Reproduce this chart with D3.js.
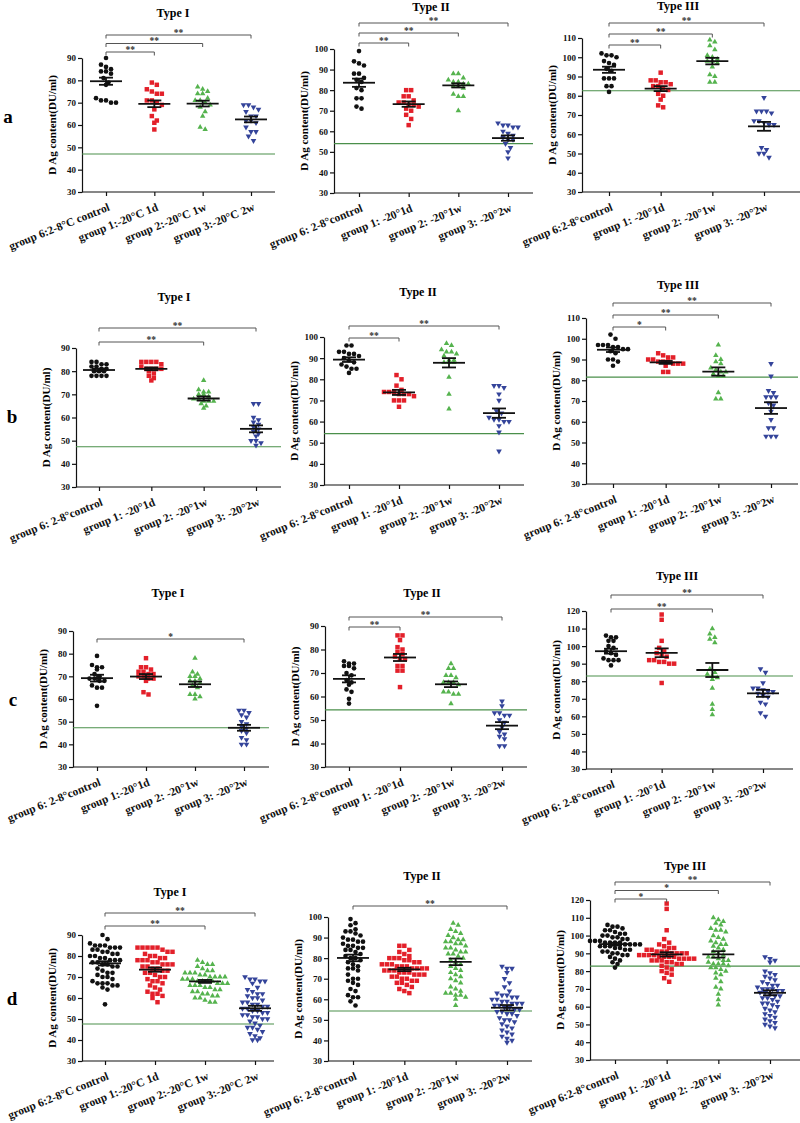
<!DOCTYPE html>
<html>
<head>
<meta charset="utf-8">
<script src="https://cdn.jsdelivr.net/npm/d3@7"></script>
<style>
  body { margin: 0; background: #fff; }
  svg { display: block; font-family: "Liberation Serif", "Times New Roman", serif; font-weight: bold; }
</style>
</head>
<body>
<div class="mainBody"></div>
<script>
// ---- data ----
var rowLetters = ["a", "b", "c", "d"];
var typeTitles = ["Type I", "Type II", "Type III"];

var labelsC = ["group 6:2-8°C control", "group 1:-20°C 1d", "group 2:-20°C 1w", "group 3:-20°C 2w"];
var labelsSpace = ["group 6: 2-8°control", "group 1: -20°1d", "group 2: -20°1w", "group 3: -20°2w"];
var labelsTight = ["group 6:2-8°control", "group 1: -20°1d", "group 2: -20°1w", "group 3: -20°2w"];
var labelsC1 = ["group 6: 2-8°control", "group 1:-20°1d", "group 2: -20°1w", "group 3: -20°2w"];

// reference (green) line per panel, rows a-d x types I-III
var refLevels = [
    [47, 54, 82.6],
    [47.4, 54.3, 81.5],
    [47.3, 54.3, 83],
    [47.6, 54.3, 82.8]
];

var a1Values = [
    [90, 87, 86, 85, 84, 84, 83, 81, 79, 78, 72, 71, 71, 70, 70],
    [79, 78, 76, 75, 74, 74, 71, 71, 70, 69, 67, 64, 62, 61, 58],
    [77, 76, 75, 74, 74, 72, 71, 71, 70, 69, 68, 66, 64, 59, 58],
    [69, 69, 68, 67, 66, 64, 64, 62, 62, 61, 59, 57, 57, 55, 53]
];
var a1Means = [79.6, 69.5, 69.6, 62.5];
var a1Sems = [1.6, 1.5, 1.3, 1.3];
var a1Sig = [[1, "**"], [2, "**"], [3, "**"]];

var a2Values = [
    [99, 94, 93, 92, 88, 88, 86, 85, 84, 81, 80, 76, 76, 72, 71],
    [80, 80, 77, 77, 75, 74, 74, 73, 73, 72, 71, 70, 68, 66, 63],
    [88, 88, 86, 85, 84, 84, 83, 83, 82, 82, 81, 78, 77, 77, 70],
    [64, 63, 63, 62, 62, 60, 59, 58, 57, 56, 56, 54, 52, 50, 47]
];
var a2Means = [83.6, 73.2, 82.3, 56.7];
var a2Sems = [2.0, 1.3, 1.0, 1.3];
var a2Sig = [[1, "**"], [2, "**"], [3, "**"]];

var a3Values = [
    [102, 101, 101, 100, 98, 97, 96, 94, 93, 89, 89, 89, 85, 85, 82],
    [92, 88, 88, 87, 87, 86, 85, 85, 84, 83, 81, 80, 78, 75, 74],
    [109, 108, 106, 104, 101, 100, 99, 98, 98, 97, 95, 91, 90, 87, 87],
    [79, 72, 72, 72, 71, 67, 67, 66, 65, 65, 53, 52, 50, 50, 48]
];
var a3Means = [93.5, 83.7, 98, 64.1];
var a3Sems = [1.6, 1.3, 1.7, 2.3];
var a3Sig = [[1, "**"], [2, "**"], [3, "**"]];

var b1Values = [
    [84, 84, 83, 83, 82, 82, 81, 81, 80, 80, 80, 78, 78, 78, 78],
    [84, 84, 84, 84, 83, 82, 81, 81, 81, 81, 80, 79, 78, 77, 76],
    [76, 72, 71, 71, 70, 70, 69, 68, 68, 67, 67, 67, 66, 65, 64],
    [66, 66, 60, 59, 58, 57, 56, 55, 54, 53, 52, 50, 50, 49, 48]
];
var b1Means = [80.5, 81, 68.2, 55.1];
var b1Sems = [0.6, 0.6, 0.9, 1.5];
var b1Sig = [[2, "**"], [3, "**"]];

var b2Values = [
    [96, 96, 93, 93, 92, 92, 91, 90, 89, 88, 87, 86, 85, 85, 83],
    [82, 80, 77, 75, 74, 74, 74, 73, 73, 73, 72, 70, 70, 70, 67],
    [97, 96, 94, 93, 93, 92, 91, 89, 89, 88, 88, 88, 81, 73, 66],
    [77, 77, 76, 73, 70, 65, 64, 62, 61, 61, 60, 60, 58, 55, 46]
];
var b2Means = [89.3, 73.8, 87.8, 64];
var b2Sems = [1.1, 1.2, 2.2, 2.2];
var b2Sig = [[1, "**"], [3, "**"]];

var b3Values = [
    [102, 100, 97, 97, 97, 96, 96, 95, 95, 94, 93, 90, 90, 89, 87],
    [93, 92, 91, 91, 90, 90, 89, 89, 89, 88, 88, 88, 87, 84, 84],
    [97, 92, 90, 89, 88, 86, 85, 84, 84, 83, 82, 82, 74, 71, 71],
    [88, 82, 75, 74, 72, 72, 72, 69, 68, 65, 61, 57, 57, 53, 53, 53]
];
var b3Means = [94.7, 88.6, 84.2, 66.6];
var b3Sems = [1.1, 0.7, 2.0, 2.8];
var b3Sig = [[1, "*"], [2, "**"], [3, "**"]];

var c1Values = [
    [79, 75, 74, 74, 73, 71, 70, 69, 69, 68, 68, 66, 65, 65, 57],
    [78, 74, 74, 73, 72, 72, 71, 71, 70, 70, 69, 69, 68, 63, 62],
    [78, 72, 71, 70, 70, 69, 68, 68, 67, 66, 65, 62, 62, 61, 60],
    [55, 55, 54, 53, 52, 50, 49, 48, 47, 46, 45, 43, 42, 40, 40]
];
var c1Means = [69.2, 69.9, 66.5, 47.3];
var c1Sems = [1.5, 1.1, 1.2, 1.3];
var c1Sig = [[3, "*"]];

var c2Values = [
    [75, 74, 74, 73, 73, 72, 70, 69, 67, 66, 65, 63, 62, 59, 57],
    [86, 86, 84, 81, 80, 79, 78, 77, 76, 76, 73, 73, 71, 71, 64],
    [74, 72, 72, 69, 69, 68, 66, 66, 66, 65, 61, 62, 62, 61, 57],
    [58, 56, 53, 53, 52, 52, 50, 49, 47, 45, 44, 43, 42, 39, 39]
];
var c2Means = [67.5, 76.6, 65.2, 47.6];
var c2Sems = [1.5, 1.5, 1.2, 1.5];
var c2Sig = [[1, "**"], [3, "**"]];

var c3Values = [
    [106, 105, 105, 103, 103, 100, 99, 97, 96, 95, 93, 92, 92, 92, 89],
    [118, 115, 103, 99, 97, 96, 95, 94, 92, 92, 91, 91, 90, 90, 79],
    [110, 107, 105, 104, 102, 87, 85, 84, 83, 82, 81, 76, 67, 64, 61],
    [87, 85, 79, 76, 76, 75, 74, 74, 73, 72, 71, 68, 67, 62, 60]
];
var c3Means = [97.1, 96.2, 86.4, 73.1];
var c3Sems = [1.4, 2.5, 4.0, 2.0];
var c3Sig = [[2, "**"], [3, "**"]];

var d1Values = [
    [90, 88, 86, 85, 85, 84, 84, 84, 83, 83, 82, 82, 81, 81, 80, 80, 79, 79, 78, 78, 78, 77, 77, 76, 76, 75, 75, 74, 73, 72, 72, 71, 70, 70, 69, 68, 67, 67, 67, 66, 66, 65, 64, 57, 85],
    [84, 84, 84, 84, 84, 83, 82, 82, 81, 80, 80, 79, 79, 78, 78, 77, 77, 76, 76, 75, 75, 74, 74, 73, 73, 72, 72, 71, 70, 70, 69, 68, 68, 67, 66, 65, 64, 63, 62, 62, 61, 60, 58, 78, 76],
    [78, 77, 76, 76, 75, 74, 73, 73, 72, 72, 71, 71, 70, 70, 70, 69, 69, 69, 68, 68, 68, 68, 67, 67, 67, 66, 66, 66, 65, 65, 64, 64, 63, 63, 62, 62, 61, 61, 60, 60, 59, 58, 58, 70, 72],
    [70, 69, 69, 68, 68, 67, 65, 64, 63, 62, 61, 60, 60, 59, 58, 58, 57, 56, 56, 55, 55, 54, 54, 53, 53, 52, 52, 51, 50, 50, 49, 48, 47, 46, 46, 45, 44, 43, 42, 41, 40, 40, 62, 57, 51]
];
var d1Means = [76.5, 73.5, 67.9, 55.1];
var d1Sems = [1.0, 1.0, 0.7, 1.2];
var d1Sig = [[2, "**"], [3, "**"]];

var d2Values = [
    [99, 97, 96, 94, 93, 93, 92, 91, 90, 89, 89, 88, 88, 87, 86, 86, 85, 84, 84, 83, 82, 81, 80, 79, 78, 77, 76, 75, 75, 74, 72, 70, 70, 69, 68, 67, 65, 64, 62, 61, 61, 59, 57, 80, 85],
    [86, 86, 84, 83, 82, 81, 80, 80, 79, 79, 78, 78, 77, 77, 76, 76, 76, 75, 75, 75, 74, 74, 74, 73, 73, 73, 72, 72, 71, 71, 70, 70, 69, 69, 68, 68, 67, 66, 65, 64, 63, 80, 77, 72, 75],
    [97, 96, 94, 93, 92, 91, 90, 89, 89, 88, 88, 87, 86, 85, 85, 84, 83, 82, 82, 81, 80, 79, 78, 77, 76, 75, 74, 73, 72, 70, 69, 68, 66, 65, 64, 63, 63, 62, 62, 61, 60, 57, 83, 87, 71],
    [76, 75, 75, 73, 70, 68, 66, 64, 63, 62, 61, 61, 60, 60, 59, 59, 58, 58, 57, 57, 56, 56, 55, 55, 54, 54, 53, 52, 51, 50, 50, 49, 48, 47, 46, 45, 44, 43, 42, 41, 40, 39, 58, 53, 62]
];
var d2Means = [80.1, 74.5, 78.2, 55.9];
var d2Sems = [1.6, 0.8, 1.6, 1.3];
var d2Sig = [[3, "**"]];

var d3Values = [
    [106, 105, 105, 104, 103, 103, 102, 101, 101, 100, 100, 99, 99, 98, 98, 97, 97, 97, 96, 96, 96, 95, 95, 95, 94, 94, 94, 93, 93, 92, 92, 91, 91, 90, 90, 89, 89, 88, 87, 86, 85, 84, 82, 96, 95],
    [118, 115, 103, 98, 96, 95, 94, 93, 92, 92, 91, 91, 90, 90, 90, 89, 89, 89, 88, 88, 88, 87, 87, 87, 86, 86, 85, 85, 84, 84, 83, 82, 81, 80, 79, 78, 76, 74, 91, 89, 88, 86, 93, 90, 87],
    [110, 109, 108, 107, 106, 104, 103, 103, 102, 100, 99, 98, 97, 96, 95, 94, 93, 92, 91, 90, 89, 88, 87, 86, 85, 84, 84, 83, 82, 82, 81, 80, 79, 78, 76, 74, 71, 70, 67, 64, 61, 88, 86, 84, 95],
    [88, 87, 86, 85, 80, 79, 78, 77, 76, 75, 74, 73, 72, 72, 71, 70, 70, 69, 69, 68, 68, 67, 66, 66, 65, 64, 63, 62, 62, 61, 60, 59, 58, 57, 56, 55, 54, 53, 52, 51, 50, 49, 48, 70, 65]
];
var d3Means = [95.2, 89.4, 89.4, 67.8];
var d3Sems = [0.8, 1.2, 1.8, 1.4];
var d3Sig = [[1, "*"], [2, "*"], [3, "**"]];

// ---- styling ----
var groupColors = ["#111111", "#e3202a", "#55b34e", "#34449a"];
var groupSymbols = [d3.symbolCircle, d3.symbolSquare, d3.symbolTriangle, d3.symbolTriangle];
var symbolSizes = [17, 20, 13, 14];

// panel layout: axes position in px and bracket placement
function panels() {
    return [
        { row: 0, col: 0, values: a1Values, means: a1Means, sems: a1Sems, sig: a1Sig, labels: labelsC,
          ax: 82, ex: 275, g0: 106, g3: 251, top: 58, bot: 192, ymax: 90, title: [173, 17], sigY: 52, sigStep: 8.5 },
        { row: 0, col: 1, values: a2Values, means: a2Means, sems: a2Sems, sig: a2Sig, labels: labelsSpace,
          ax: 334, ex: 533, g0: 359, g3: 508, top: 49, bot: 193, ymax: 100, title: [431, 11], sigY: 43, sigStep: 10 },
        { row: 0, col: 2, values: a3Values, means: a3Means, sems: a3Sems, sig: a3Sig, labels: labelsTight,
          ax: 582, ex: 800, g0: 609, g3: 764, top: 38, bot: 192, ymax: 110, title: [678, 10], sigY: 45, sigStep: 11 },
        { row: 1, col: 0, values: b1Values, means: b1Means, sems: b1Sems, sig: b1Sig, labels: labelsSpace,
          ax: 76, ex: 281, g0: 99, g3: 256, top: 348, bot: 487, ymax: 90, title: [174, 301], sigY: 342, sigStep: 14 },
        { row: 1, col: 1, values: b2Values, means: b2Means, sems: b2Sems, sig: b2Sig, labels: labelsSpace,
          ax: 324, ex: 524, g0: 349, g3: 499, top: 337, bot: 485, ymax: 100, title: [418, 296], sigY: 338, sigStep: 12 },
        { row: 1, col: 2, values: b3Values, means: b3Means, sems: b3Sems, sig: b3Sig, labels: labelsSpace,
          ax: 586, ex: 798, g0: 613, g3: 771, top: 318, bot: 484, ymax: 110, title: [678, 289], sigY: 327, sigStep: 12 },
        { row: 2, col: 0, values: c1Values, means: c1Means, sems: c1Sems, sig: c1Sig, labels: labelsC1,
          ax: 73, ex: 269, g0: 97, g3: 244, top: 631, bot: 767, ymax: 90, title: [168, 597], sigY: 639, sigStep: 12 },
        { row: 2, col: 1, values: c2Values, means: c2Means, sems: c2Sems, sig: c2Sig, labels: labelsSpace,
          ax: 325, ex: 527, g0: 349, g3: 502, top: 626, bot: 767, ymax: 90, title: [422, 597], sigY: 627, sigStep: 10 },
        { row: 2, col: 2, values: c3Values, means: c3Means, sems: c3Sems, sig: c3Sig, labels: labelsSpace,
          ax: 586, ex: 793, g0: 611, g3: 763, top: 611, bot: 769, ymax: 120, title: [677, 580], sigY: 609, sigStep: 14 },
        { row: 3, col: 0, values: d1Values, means: d1Means, sems: d1Sems, sig: d1Sig, labels: labelsC,
          ax: 82, ex: 274, g0: 105, g3: 255, top: 935, bot: 1061, ymax: 90, title: [170, 896], sigY: 926, sigStep: 13 },
        { row: 3, col: 1, values: d2Values, means: d2Means, sems: d2Sems, sig: d2Sig, labels: labelsSpace,
          ax: 328, ex: 532, g0: 353, g3: 507, top: 917, bot: 1061, ymax: 100, title: [422, 880], sigY: 906, sigStep: 12 },
        { row: 3, col: 2, values: d3Values, means: d3Means, sems: d3Sems, sig: d3Sig, labels: labelsTight,
          ax: 590, ex: 800, g0: 615, g3: 770, top: 900, bot: 1060, ymax: 120, title: [685, 870], sigY: 899, sigStep: 8.5 }
    ];
}

var rowLetterPos = [[8, 123], [12, 423], [13, 706], [12, 1005]];

var svg = d3.select("div.mainBody").append("svg")
    .attr("width", 800)
    .attr("height", 1123);

svg.append("rect").attr("width", 800).attr("height", 1123).attr("fill", "#fff");

// spread points of similar value side by side, like a GraphPad scatter
function spreadPoints(values, y, gx, gap) {
    let pts = values.map(function(v) { return { v: v, py: y(v) }; })
        .sort(function(a, b) { return a.py - b.py; });
    let rows = [];
    let cur = null;
    pts.forEach(function(p) {
        if (!cur || p.py - cur.start > gap * 0.9) {
            cur = { start: p.py, pts: [] };
            rows.push(cur);
        }
        cur.pts.push(p);
    });
    rows.forEach(function(r) {
        let k = r.pts.length;
        r.pts.forEach(function(p, i) {
            p.px = gx + (i - (k - 1) / 2) * gap;
        });
    });
    return pts;
}

function drawPanel(p) {
    let y = d3.scaleLinear().domain([30, p.ymax]).range([p.bot, p.top]);
    let x = d3.scalePoint().domain(d3.range(4)).range([p.g0, p.g3]);
    let g = svg.append("g").attr("class", "panel");

    // title
    g.append("text")
        .attr("x", p.title[0]).attr("y", p.title[1])
        .attr("text-anchor", "middle")
        .attr("font-size", 12)
        .text(typeTitles[p.col]);

    // y axis
    let yAxis = d3.axisLeft(y)
        .tickValues(d3.range(30, p.ymax + 1, 10))
        .tickSize(4).tickSizeOuter(0).tickPadding(2)
        .tickFormat(d3.format("d"));
    let ya = g.append("g").attr("transform", `translate(${p.ax},0)`).call(yAxis)
        .attr("font-family", null).attr("font-size", null);
    ya.selectAll("text").attr("font-size", 9).attr("fill", "#111");
    ya.selectAll("line, path").attr("stroke", "#111").attr("stroke-width", 1.2);

    g.append("text")
        .attr("transform", `translate(${p.ax - 26},${(p.top + p.bot) / 2}) rotate(-90)`)
        .attr("text-anchor", "middle")
        .attr("font-size", 11)
        .text("D Ag content(DU/ml)");

    // x axis
    let xAxis = d3.axisBottom(x).tickSize(4).tickFormat(function(d) { return p.labels[d]; });
    let xa = g.append("g").attr("transform", `translate(0,${p.bot})`).call(xAxis)
        .attr("font-family", null).attr("font-size", null);
    xa.select(".domain").attr("d", `M${p.ax},0H${p.ex}`);
    xa.selectAll("line, path").attr("stroke", "#111").attr("stroke-width", 1.2);
    xa.selectAll("text")
        .attr("x", 0).attr("y", 0).attr("dy", 0)
        .attr("text-anchor", "end")
        .attr("font-size", 11.5)
        .attr("fill", "#111")
        .attr("transform", "translate(4,18) rotate(-22)");

    // reference line
    let ref = refLevels[p.row][p.col];
    g.append("line")
        .attr("x1", p.ax).attr("x2", p.ex)
        .attr("y1", y(ref)).attr("y2", y(ref))
        .attr("stroke", "#4a8f4a").attr("stroke-width", 1.1);

    // points
    p.values.forEach(function(vals, gi) {
        let pts = spreadPoints(vals, y, x(gi), 5);
        let sym = d3.symbol().type(groupSymbols[gi]).size(symbolSizes[gi]);
        g.append("g").selectAll("path")
            .data(pts).enter().append("path")
            .attr("d", sym)
            .attr("fill", groupColors[gi])
            .attr("transform", function(d) {
                return `translate(${d.px},${d.py})` + (gi === 3 ? " rotate(180)" : "");
            });
    });

    // mean +/- SEM
    let stats = g.append("g").attr("stroke", "#111").attr("stroke-width", 1.8).attr("fill", "none");
    p.means.forEach(function(m, gi) {
        let cx = x(gi);
        let hi = y(m + p.sems[gi]);
        let lo = y(m - p.sems[gi]);
        stats.append("line").attr("x1", cx - 16).attr("x2", cx + 16).attr("y1", y(m)).attr("y2", y(m));
        stats.append("line").attr("x1", cx).attr("x2", cx).attr("y1", hi).attr("y2", lo);
        stats.append("line").attr("x1", cx - 7).attr("x2", cx + 7).attr("y1", hi).attr("y2", hi);
        stats.append("line").attr("x1", cx - 7).attr("x2", cx + 7).attr("y1", lo).attr("y2", lo);
    });

    // significance brackets
    p.sig.forEach(function(s, i) {
        let by = p.sigY - i * p.sigStep;
        let x1 = x(0), x2 = x(s[0]);
        g.append("path")
            .attr("d", `M${x1},${by + 3.5}V${by}H${x2}V${by + 3.5}`)
            .attr("fill", "none")
            .attr("stroke", "#555")
            .attr("stroke-width", 1);
        g.append("text")
            .attr("x", (x1 + x2) / 2).attr("y", by + 0.5)
            .attr("text-anchor", "middle")
            .attr("font-size", 9.5)
            .attr("fill", "#333")
            .text(s[1]);
    });
}

function drawRowLetters() {
    svg.selectAll("text.row-letter")
        .data(rowLetters).enter().append("text")
        .attr("class", "row-letter")
        .attr("x", function(d, i) { return rowLetterPos[i][0]; })
        .attr("y", function(d, i) { return rowLetterPos[i][1]; })
        .attr("text-anchor", "middle")
        .attr("font-size", 19)
        .text(function(d) { return d; });
}

panels().forEach(drawPanel);
drawRowLetters();
</script>
</body>
</html>
